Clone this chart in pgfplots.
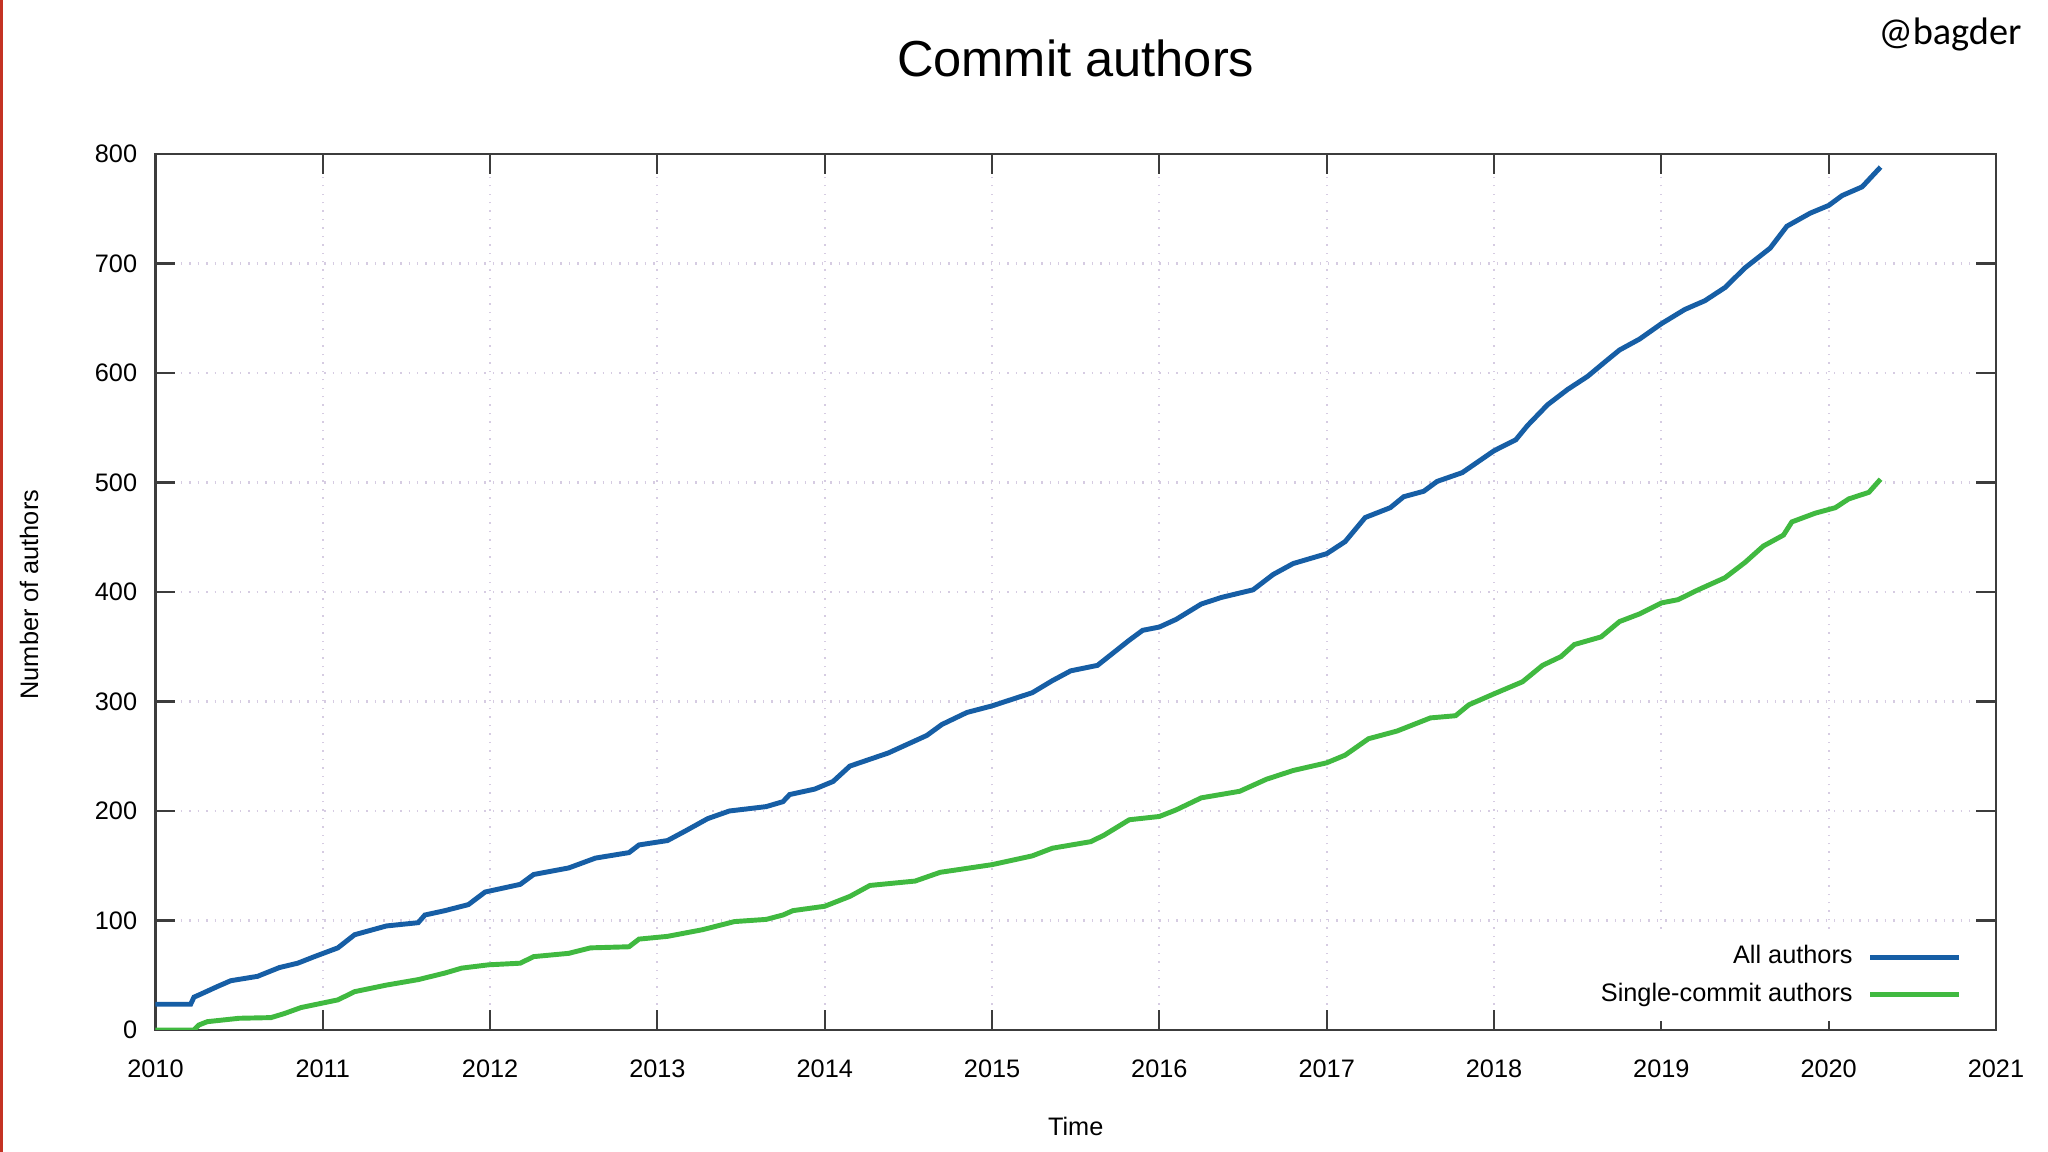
\documentclass[border=0pt]{standalone}
\usepackage{pgfplots}
\pgfplotsset{compat=1.18}
\usepackage{fontspec}
\setmainfont{Liberation Sans}
\newfontfamily\tagfont{Carlito}
\definecolor{allblue}{RGB}{22,94,165}
\definecolor{singlegreen}{RGB}{64,185,64}
\definecolor{gridc}{RGB}{214,204,226}
\definecolor{axisc}{RGB}{60,60,60}
\definecolor{slidered}{RGB}{196,50,35}
\begin{document}
\begin{tikzpicture}[x=1cm,y=1cm]
\useasboundingbox (0,0) rectangle (20.48,11.52);
\fill[white] (0,0) rectangle (20.48,11.52);
\fill[slidered] (0,0) rectangle (0.03,11.52);
\node[font=\tagfont\fontsize{10.9}{13}\selectfont] at (19.50,11.17) {@bagder};
\begin{axis}[
  at={(1.555cm,1.22cm)}, anchor=south west,
  scale only axis, width=18.405cm, height=8.76cm,
  xmin=2010, xmax=2021, ymin=0, ymax=800,
  xtick={2010,2011,...,2021}, ytick={0,100,...,800},
  minor x tick num=3,
  tick align=inside,
  major tick length=0.2cm, minor tick length=0.1cm,
  axis line style={axisc, line width=0.6pt},
  every tick/.style={axisc, line width=0.6pt},
  grid=major,
  major grid style={gridc, dotted, line width=0.6pt},
  /pgf/number format/assume math mode=true,
  /pgf/number format/1000 sep={},
  tick label style={font=\fontsize{7.2}{8.6}\selectfont},
  xticklabel style={yshift=-0.17cm},
  yticklabel style={xshift=-0.06cm},
  title={Commit authors},
  title style={font=\fontsize{14.4}{17}\selectfont, at={(axis description cs:0.5,1)}, anchor=center, yshift=0.74cm},
  xlabel={Time},
  xlabel style={font=\fontsize{7.2}{8.6}\selectfont, at={(axis description cs:0.5,0)}, anchor=center, yshift=-0.96cm},
  ylabel={Number of authors},
  ylabel style={font=\fontsize{7.2}{8.6}\selectfont, at={(axis description cs:-0.0687,0.497)}, anchor=center},
  legend style={at={(rel axis cs:0.9855,0.0097)}, anchor=south east, draw=none, fill=white,
    font=\fontsize{7.2}{8.6}\selectfont, row sep=0pt, inner sep=2pt},
  legend cell align=right,
  legend plot pos=right,
  legend image code/.code={\path (0cm,0cm); \draw[#1] (0.08cm,0cm) -- (0.97cm,0cm);},
]
\addplot[allblue, line width=1.4pt] coordinates {
(2010.00,23.5)(2010.21,23.5)(2010.23,30)(2010.26,32)(2010.37,39.7)(2010.45,45)(2010.61,49)(2010.74,57)
(2010.85,61)(2010.95,67)(2011.09,75)(2011.19,87)(2011.38,95)(2011.57,98)(2011.61,105)(2011.73,109)
(2011.87,114.5)(2011.97,126)(2012.18,133)(2012.26,142)(2012.47,148)(2012.63,157)(2012.83,162)(2012.89,169)
(2013.06,173)(2013.17,182)(2013.30,193)(2013.43,200)(2013.65,204)(2013.75,208.5)(2013.79,215)(2013.94,220)
(2014.05,227)(2014.15,241)(2014.38,253)(2014.61,269)(2014.70,279)(2014.85,290)(2015.00,296)(2015.24,308)
(2015.36,319)(2015.47,328)(2015.63,333)(2015.82,356)(2015.90,365)(2016.00,368)(2016.10,375)(2016.25,389)
(2016.37,395)(2016.56,402)(2016.68,416)(2016.80,426)(2017.00,435)(2017.11,446)(2017.23,468)(2017.38,477)
(2017.46,487)(2017.58,492)(2017.66,501)(2017.81,509)(2018.00,529)(2018.13,539)(2018.20,552)(2018.32,571)
(2018.44,585)(2018.56,597)(2018.67,611)(2018.75,621)(2018.87,631)(2019.00,645)(2019.14,658)(2019.26,666)
(2019.38,678)(2019.50,696)(2019.65,714)(2019.75,734)(2019.89,746)(2020.00,753)(2020.08,762)(2020.20,770)
(2020.31,788)
};
\addlegendentry{All authors}
\addplot[singlegreen, line width=1.4pt] coordinates {
(2010.00,0)(2010.23,0)(2010.26,4.6)(2010.31,7.6)(2010.50,10.7)(2010.69,11.3)(2010.77,15)(2010.87,20.5)
(2011.09,27.5)(2011.19,35)(2011.38,41)(2011.57,46)(2011.73,52)(2011.83,56.5)(2011.99,59.5)(2012.18,61)
(2012.26,67)(2012.47,70)(2012.60,75)(2012.83,76)(2012.89,83)(2013.06,85.5)(2013.27,91.6)(2013.46,99)
(2013.65,101)(2013.75,105)(2013.81,109)(2014.00,113)(2014.15,122)(2014.27,132)(2014.54,136)(2014.69,144)
(2015.00,151)(2015.24,159)(2015.36,166)(2015.59,172)(2015.67,178)(2015.82,192)(2016.00,195)(2016.10,201)
(2016.25,212)(2016.48,218)(2016.64,229)(2016.80,237)(2017.00,244)(2017.11,251)(2017.25,266)(2017.42,273)
(2017.62,285)(2017.77,287)(2017.85,297)(2018.00,307)(2018.17,318)(2018.29,333)(2018.40,341)(2018.48,352)
(2018.64,359)(2018.75,373)(2018.87,380)(2019.00,390)(2019.10,393)(2019.22,402)(2019.38,413)(2019.50,427)
(2019.61,442)(2019.73,452)(2019.78,464)(2019.92,472)(2020.04,477)(2020.12,485)(2020.24,491)(2020.31,503)
};
\addlegendentry{Single-commit authors}
\end{axis}
\end{tikzpicture}
\end{document}
